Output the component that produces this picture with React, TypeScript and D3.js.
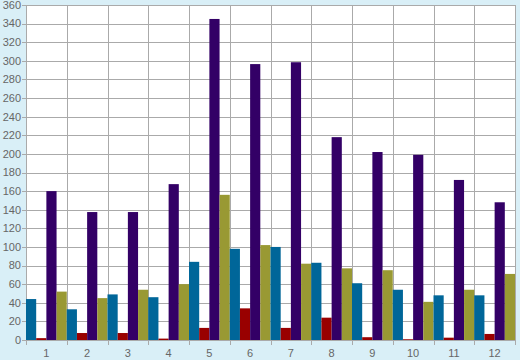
import React from 'react';
import * as d3 from 'd3';

const categories = ['1', '2', '3', '4', '5', '6', '7', '8', '9', '10', '11', '12'];
const seriesNames = ['blue', 'red', 'purple', 'olive'];
const blueValues = [44, 33, 49, 46, 84, 98, 100, 83, 61, 54, 48, 48];
const redValues = [2, 7.5, 7.5, 1.5, 13, 34, 13, 24, 3, 0.8, 2.5, 6.5];
const purpleValues = [160, 137.5, 137.5, 167.5, 345, 296.5, 298.5, 218, 202, 199, 172, 148];
const oliveValues = [52, 45, 54, 60, 156, 102, 82, 77, 75, 41, 54, 71];
const seriesColors = ['#006699', '#990000', '#330066', '#999933'];
const yTicks = d3.range(0, 361, 20);

export default function App() {
  const width = 520;
  const height = 360;
  const margin = { left: 26, right: 5, top: 5, bottom: 20 };
  const innerW = width - margin.left - margin.right;
  const innerH = height - margin.top - margin.bottom;

  const allSeries = [blueValues, redValues, purpleValues, oliveValues];

  const x = d3.scaleBand().domain(categories).range([0, innerW]).padding(0);
  const x1 = d3.scaleBand().domain(seriesNames).range([0, x.bandwidth()]).padding(0);
  const y = d3.scaleLinear().domain([0, 360]).range([innerH, 0]);

  const textStyle = { fontFamily: '"Liberation Sans", Arial, sans-serif', fontSize: 11, fill: '#666666' };

  return (
    <div style={{ position: 'absolute', left: 0, top: 0 }}>
      <svg width={width} height={height} style={{ display: 'block' }}>
        <rect x={0} y={0} width={width} height={height} fill="#d9eff7" />
        <g transform={`translate(${margin.left},${margin.top})`}>
          <rect x={0} y={0} width={innerW} height={innerH} fill="#ffffff" />
          {yTicks.map((t) => (
            <g key={'y' + t}>
              <line x1={-4} x2={innerW} y1={Math.round(y(t)) + 0.5} y2={Math.round(y(t)) + 0.5} stroke="#aaaaaa" />
              <text x={-5} y={y(t)} dy="0.35em" textAnchor="end" style={textStyle}>{t}</text>
            </g>
          ))}
          {categories.map((c) => (
            <line key={'v' + c} x1={Math.round(x(c)!) + 0.5} x2={Math.round(x(c)!) + 0.5} y1={0} y2={innerH + 5} stroke="#aaaaaa" />
          ))}
          <line x1={innerW + 0.5} x2={innerW + 0.5} y1={0} y2={innerH + 5} stroke="#aaaaaa" />
          {categories.map((c, i) => (
            <g key={'g' + c} transform={`translate(${x(c)},0)`}>
              {allSeries.map((vals, s) => (
                <rect
                  key={s}
                  x={x1(seriesNames[s])}
                  y={y(vals[i])}
                  width={x1.bandwidth()}
                  height={innerH - y(vals[i])}
                  fill={seriesColors[s]}
                />
              ))}
            </g>
          ))}
          <line x1={0} x2={innerW} y1={innerH + 0.5} y2={innerH + 0.5} stroke="#aaaaaa" />
          {categories.map((c) => (
            <text key={'l' + c} x={x(c)! + x.bandwidth() / 2} y={innerH + 17} textAnchor="middle" style={textStyle}>{c}</text>
          ))}
        </g>
      </svg>
    </div>
  );
}
